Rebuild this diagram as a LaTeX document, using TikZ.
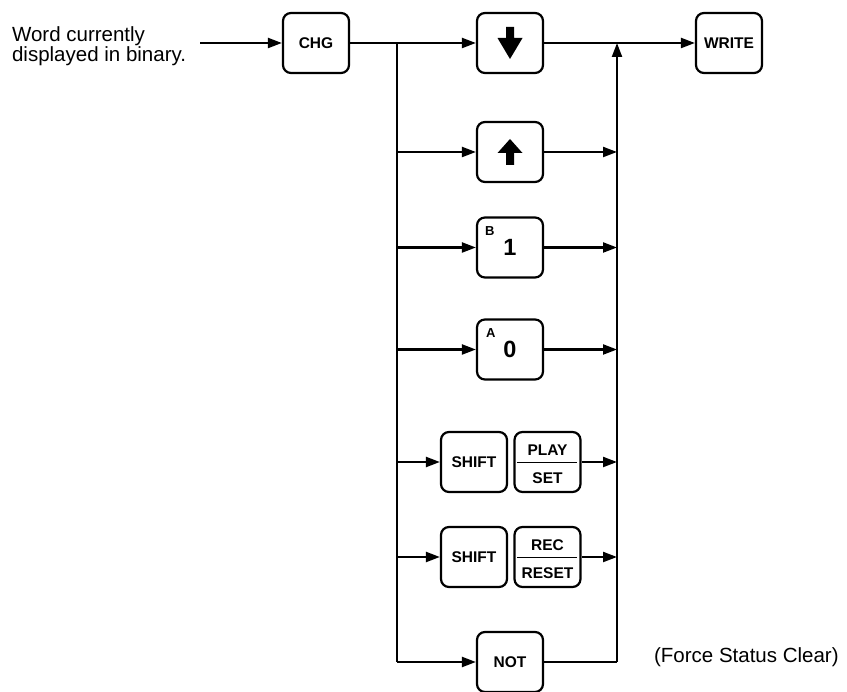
\documentclass[tikz,border=0pt]{standalone}
\usepackage{fontspec}
\setmainfont{Liberation Sans}
\usetikzlibrary{arrows.meta,calc,positioning}

\begin{document}
\begin{tikzpicture}[x=1pt,y=-1pt,line width=2.2pt,
    key/.style={draw, rounded corners=8pt, minimum width=66pt, minimum height=60pt,
      inner sep=0pt, font=\fontsize{15.5}{18}\selectfont\bfseries},
    keytxt/.style={inner sep=0pt, font=\fontsize{15.5}{18}\selectfont\bfseries},
    suptxt/.style={inner sep=0pt, font=\fontsize{13}{14}\selectfont\bfseries},
    bigtxt/.style={font=\fontsize{23.5}{26}\selectfont\bfseries},
    flow/.style={-{Triangle[length=14pt,width=10pt]}}]
  \useasboundingbox (0,0) rectangle (847,692);

  % keys
  \node[key] (chg) at (316,43) {CHG};
  \node[key] (dn) at (510,43) {};
  \node[key] (wr) at (729,43) {WRITE};
  \node[key] (up) at (510,152) {};
  \node[key,bigtxt] (b1) at (510,247.5) {1};
  \node[key,bigtxt] (a0) at (510,349.5) {0};
  \node[key] (sh1) at (474,462) {SHIFT};
  \node[key] (ps) at (547.5,462) {};
  \node[key] (sh2) at (474,557) {SHIFT};
  \node[key] (rr) at (547.5,557) {};
  \node[key] (nt) at (510,662) {NOT};

  % key faces
  \fill[shift={(dn.center)}] (-4,-16) -- (4,-16) -- (4,-5) -- (12.5,-5) -- (0,16)
    -- (-12.5,-5) -- (-4,-5) -- cycle;
  \fill[shift={(up.center)}] (0,-13) -- (12.5,1) -- (4,1) -- (4,13) -- (-4,13)
    -- (-4,1) -- (-12.5,1) -- cycle;
  \node[suptxt] at ($(b1.north west)+(14,15)$) {B};
  \node[suptxt] at ($(a0.north west)+(15,15)$) {A};
  \node[keytxt] at ($(ps.center)+(0,-12)$) {PLAY};
  \node[keytxt] at ($(ps.center)+(0,16)$) {SET};
  \draw[line width=1.6pt] ($(ps.west)+(4,0.5)$) -- ($(ps.east)+(-5,0.5)$);
  \node[keytxt] at ($(rr.center)+(0,-12)$) {REC};
  \node[keytxt] at ($(rr.center)+(0,16)$) {RESET};
  \draw[line width=1.6pt] ($(rr.west)+(4,0.5)$) -- ($(rr.east)+(-5,0.5)$);

  % texts
  \node[anchor=west, align=left, inner sep=0pt,
    font=\fontsize{20.5}{20.5}\selectfont] (src) at (11,46) {Word currently\\displayed in binary.};
  \node[anchor=west, inner sep=0pt, font=\fontsize{20.5}{22}\selectfont] (fsc) at (653,657)
    {(Force Status Clear)};

  \coordinate (in) at (200,43);
  \coordinate (sp) at (397,43);
  \coordinate (mg) at (617,43);

  % connectors
  \draw[flow] (in) -- (chg);
  \draw[flow] (chg) -- (dn);
  \draw[flow] (dn) -- (wr);
  \draw (sp) -- (sp |- nt);
  \draw[flow] (sp |- up) -- (up);
  \draw[flow] (sp |- b1) -- (b1);
  \draw[flow] (sp |- a0) -- (a0);
  \draw[flow] (sp |- sh1) -- (sh1);
  \draw[flow] (sp |- sh2) -- (sh2);
  \draw[flow] (sp |- nt) -- (nt);
  \draw[flow] (up) -- (mg |- up);
  \draw[flow] (b1) -- (mg |- b1);
  \draw[flow] (a0) -- (mg |- a0);
  \draw[flow] (ps) -- (mg |- ps);
  \draw[flow] (rr) -- (mg |- rr);
  \draw[line width=1.2pt] (nt) -- (mg |- nt);
  \draw[flow] (mg |- nt) -- (mg);
\end{tikzpicture}
\end{document}
